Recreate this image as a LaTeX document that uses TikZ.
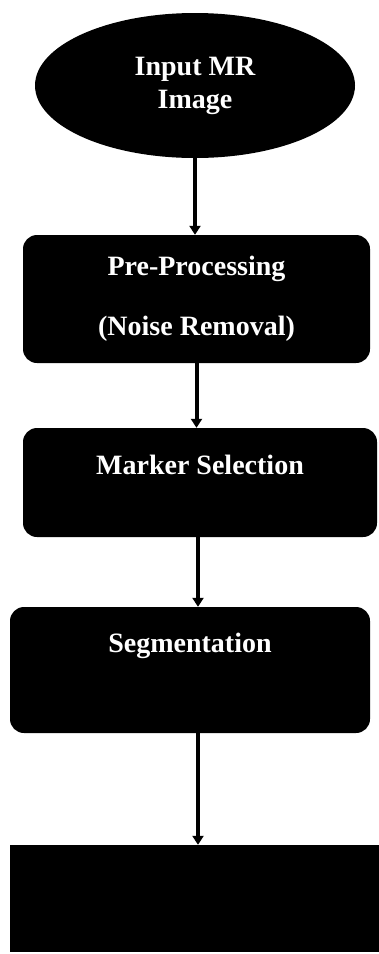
\documentclass[tikz,border=0pt]{standalone}
\usepackage{fontspec}
\setmainfont{Liberation Serif}
\usetikzlibrary{shapes.geometric,arrows.meta}

\tikzset{
  stagebox/.style={rectangle, rounded corners=14pt, fill=black, draw=none, inner sep=0pt,
    text=white, align=center, font=\bfseries\fontsize{28}{33}\selectfont},
  flowarrow/.style={line width=4pt, -{Triangle[width=11pt,length=9pt]}}
}

\begin{document}
\begin{tikzpicture}[x=1pt, y=1pt]
    \useasboundingbox (0,0) rectangle (379,-954);

    % Input image (ellipse)
    \node[ellipse, fill=black, inner sep=0pt, minimum width=320pt, minimum height=145pt,
          text=white, align=center, font=\bfseries\fontsize{28}{33}\selectfont]
          (input) at (195,-85.5) {Input MR\\Image};

    % Processing stages
    \node[stagebox, minimum width=347pt, minimum height=128pt,
          font=\bfseries\fontsize{28}{60}\selectfont]
          (pre) at (196.5,-299) {Pre-Processing\\(Noise Removal)};
    \node[stagebox, minimum width=354pt, text height=46pt, text depth=63pt]
          (marker) at (200,-482.5) {Marker Selection};
    \node[stagebox, minimum width=360pt, text height=45pt, text depth=81pt]
          (seg) at (190,-670) {Segmentation};

    % Output block (no text)
    \node[rectangle, fill=black, inner sep=0pt, minimum width=369pt, minimum height=107pt]
          (out) at (194.5,-898.5) {};

    % Arrows
    \draw[flowarrow] (input.south) -- (input.south |- pre.north);
    \draw[flowarrow] (pre.south) -- (pre.south |- marker.north);
    \draw[flowarrow] ([xshift=-2pt]marker.south) -- ([xshift=-2pt]marker.south |- seg.north);
    \coordinate (segout) at ([xshift=-2pt]marker.south |- seg.south);
    \draw[flowarrow] (segout) -- (segout |- out.north);
  \end{tikzpicture}
\end{document}
